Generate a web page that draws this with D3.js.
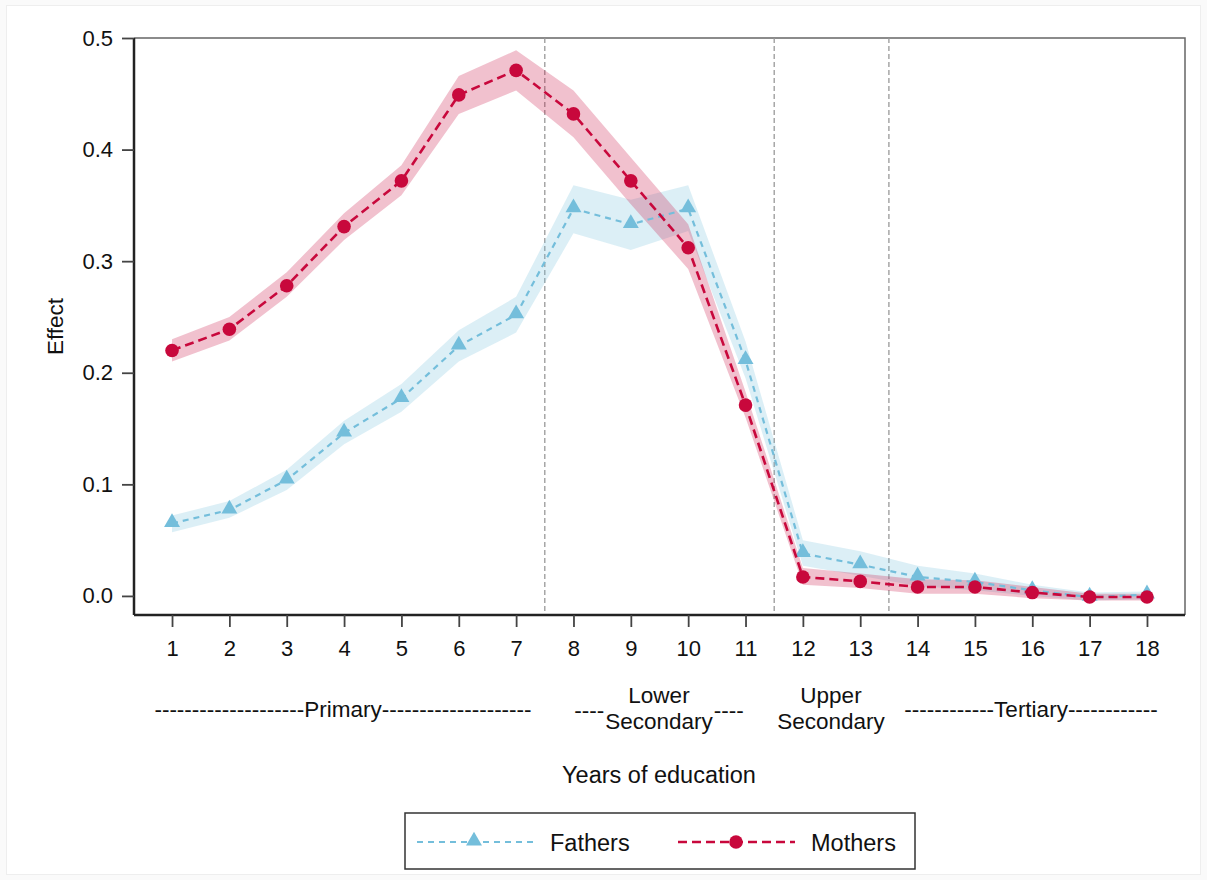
<!DOCTYPE html>
<html>
<head>
<meta charset="utf-8">
<script src="https://cdn.jsdelivr.net/npm/d3@7"></script>
<style>
  body { margin: 0; background: #fafafa; }
  svg { font-family: "Liberation Sans", Arial, sans-serif; }
</style>
</head>
<body>
<div id="chart"></div>
<script>
// Years of education
const years = d3.range(1, 19);
// Point estimates
const fathers = [0.065, 0.077, 0.104, 0.146, 0.177, 0.224, 0.252, 0.347, 0.333, 0.347, 0.211, 0.038, 0.028, 0.017, 0.0125, 0.005, -0.001, 0.001];
const mothers = [0.220, 0.239, 0.278, 0.331, 0.372, 0.449, 0.471, 0.432, 0.372, 0.312, 0.171, 0.017, 0.013, 0.008, 0.008, 0.003, -0.001, -0.001];
// Confidence bands
const fathersLo = [0.057, 0.070, 0.095, 0.136, 0.165, 0.210, 0.236, 0.325, 0.310, 0.327, 0.195, 0.027, 0.018, 0.009, 0.005, 0.000, -0.004, -0.003];
const fathersHi = [0.072, 0.085, 0.113, 0.157, 0.190, 0.238, 0.268, 0.368, 0.355, 0.368, 0.228, 0.050, 0.040, 0.027, 0.020, 0.010, 0.003, 0.004];
const mothersLo = [0.210, 0.229, 0.268, 0.319, 0.359, 0.432, 0.453, 0.411, 0.351, 0.293, 0.160, 0.010, 0.007, 0.002, 0.002, -0.002, -0.004, -0.004];
const mothersHi = [0.230, 0.250, 0.290, 0.343, 0.386, 0.466, 0.489, 0.453, 0.393, 0.333, 0.183, 0.025, 0.020, 0.015, 0.014, 0.008, 0.002, 0.002];
const yTicks = [0, 0.1, 0.2, 0.3, 0.4, 0.5];
const cutoffs = [7.5, 11.5, 13.5];

const config = {
  width: 1207, height: 880,
  margin: {top: 38, right: 22, bottom: 265, left: 134},
  fatherColor: '#74bedb',
  motherColor: '#c8083c',
  labelSize: 22.5
};

const svg = d3.select('#chart').append('svg')
    .attr('width', config.width)
    .attr('height', config.height);

// figure background with faint border
svg.append('rect')
    .attr('x', 6.5).attr('y', 5.5)
    .attr('width', 1194).attr('height', 869)
    .attr('fill', '#fff')
    .attr('stroke', '#eeeeee');

const m = config.margin;
const innerW = config.width - m.left - m.right;
const innerH = config.height - m.top - m.bottom;

const x = d3.scaleLinear().domain([0.337, 18.663]).range([m.left, m.left + innerW]);
const y = d3.scaleLinear().domain([-0.0171, 0.5]).range([m.top + innerH, m.top]);

// top and right frame
svg.append('path')
    .attr('d', `M${m.left},${m.top}H${m.left + innerW}V${m.top + innerH}`)
    .attr('fill', 'none')
    .attr('stroke', '#666')
    .attr('stroke-width', 1.5);

// vertical reference lines
svg.selectAll('.cut')
  .data(cutoffs)
  .join('line')
    .attr('class', 'cut')
    .attr('x1', d => x(d)).attr('x2', d => x(d))
    .attr('y1', m.top).attr('y2', m.top + innerH)
    .attr('stroke', '#999')
    .attr('stroke-width', 1.3)
    .attr('stroke-dasharray', '5,3');

// CI bands
function band(lo, hi, color) {
  const area = d3.area()
      .x((d, i) => x(years[i]))
      .y0((d, i) => y(lo[i]))
      .y1((d, i) => y(hi[i]));
  svg.append('path')
      .datum(years)
      .attr('d', area)
      .attr('fill', color)
      .attr('fill-opacity', 0.25);
}
band(fathersLo, fathersHi, config.fatherColor);
band(mothersLo, mothersHi, config.motherColor);

const line = d3.line().x((d, i) => x(years[i])).y(d => y(d));

// Fathers
svg.append('path')
    .datum(fathers)
    .attr('d', line)
    .attr('fill', 'none')
    .attr('stroke', config.fatherColor)
    .attr('stroke-width', 2.2)
    .attr('stroke-dasharray', '6,5');
const tri = d3.symbol().type(d3.symbolTriangle).size(110);
svg.selectAll('.tri')
  .data(fathers)
  .join('path')
    .attr('class', 'tri')
    .attr('transform', (d, i) => `translate(${x(years[i])},${y(d) - 1})`)
    .attr('d', tri)
    .attr('fill', config.fatherColor);

// Mothers
svg.append('path')
    .datum(mothers)
    .attr('d', line)
    .attr('fill', 'none')
    .attr('stroke', config.motherColor)
    .attr('stroke-width', 2.6)
    .attr('stroke-dasharray', '9,5');
svg.selectAll('.dot')
  .data(mothers)
  .join('circle')
    .attr('class', 'dot')
    .attr('cx', (d, i) => x(years[i]))
    .attr('cy', d => y(d))
    .attr('r', 6.8)
    .attr('fill', config.motherColor);

// Axes
const yAxis = svg.append('g')
    .attr('transform', `translate(${m.left},0)`)
    .call(d3.axisLeft(y).tickValues(yTicks).tickFormat(d3.format('.1f')).tickSize(12).tickPadding(9));
const xAxis = svg.append('g')
    .attr('transform', `translate(0,${m.top + innerH})`)
    .call(d3.axisBottom(x).tickValues(years).tickFormat(d3.format('d')).tickSize(12).tickPadding(13));

[yAxis, xAxis].forEach(g => {
  g.select('.domain').attr('stroke', '#222').attr('stroke-width', 2.5);
  g.selectAll('.tick line').attr('stroke', '#444').attr('stroke-width', 1.8);
  g.selectAll('.tick text')
      .attr('font-size', 22)
      .attr('font-family', '"Liberation Sans", Arial, sans-serif')
      .attr('fill', '#111');
});
// left axis domain runs full height, no outer stubs
yAxis.select('.domain').attr('d', `M0,${m.top}V${m.top + innerH}`);
xAxis.select('.domain').attr('d', `M${m.left},0H${m.left + innerW}`);

// Axis titles
svg.append('text')
    .attr('transform', `translate(63,${m.top + innerH / 2}) rotate(-90)`)
    .attr('text-anchor', 'middle')
    .attr('font-size', config.labelSize)
    .attr('fill', '#111')
    .text('Effect');
svg.append('text')
    .attr('x', 659)
    .attr('y', 783)
    .attr('text-anchor', 'middle')
    .attr('font-size', 23.5)
    .attr('fill', '#111')
    .text('Years of education');

// Level labels
const dashes = n => '-'.repeat(n);
const levelText = svg.append('g')
    .attr('font-size', config.labelSize)
    .attr('fill', '#111')
    .attr('text-anchor', 'middle');
levelText.append('text')
    .attr('x', 343).attr('y', 717)
    .text(dashes(20) + 'Primary' + dashes(20));
levelText.append('text')
    .attr('x', 659).attr('y', 703).text('Lower');
const sec1 = levelText.append('text')
    .attr('x', 659).attr('y', 729).text('Secondary');
const w1 = sec1.node().getComputedTextLength();
levelText.append('text')
    .attr('x', 659 - w1 / 2 - 1).attr('y', 718)
    .attr('text-anchor', 'end').text(dashes(4));
levelText.append('text')
    .attr('x', 659 + w1 / 2 + 1).attr('y', 718)
    .attr('text-anchor', 'start').text(dashes(4));
levelText.append('text')
    .attr('x', 831).attr('y', 703).text('Upper');
levelText.append('text')
    .attr('x', 831).attr('y', 729).text('Secondary');
levelText.append('text')
    .attr('x', 1031).attr('y', 717)
    .text(dashes(12) + 'Tertiary' + dashes(12));

// Legend
const legend = svg.append('g').attr('transform', 'translate(405,813)');
legend.append('rect')
    .attr('width', 510).attr('height', 56)
    .attr('fill', '#fff')
    .attr('stroke', '#333')
    .attr('stroke-width', 1.5);
legend.append('line')
    .attr('x1', 12).attr('x2', 128).attr('y1', 29).attr('y2', 29)
    .attr('stroke', config.fatherColor).attr('stroke-width', 2.2)
    .attr('stroke-dasharray', '6,5');
legend.append('path')
    .attr('transform', 'translate(69,28)')
    .attr('d', tri)
    .attr('fill', config.fatherColor);
legend.append('text')
    .attr('x', 145).attr('y', 38)
    .attr('font-size', 23.5).attr('fill', '#111')
    .text('Fathers');
legend.append('line')
    .attr('x1', 273).attr('x2', 390).attr('y1', 29).attr('y2', 29)
    .attr('stroke', config.motherColor).attr('stroke-width', 2.6)
    .attr('stroke-dasharray', '9,5');
legend.append('circle')
    .attr('cx', 331).attr('cy', 29).attr('r', 6.8)
    .attr('fill', config.motherColor);
legend.append('text')
    .attr('x', 406).attr('y', 38)
    .attr('font-size', 23.5).attr('fill', '#111')
    .text('Mothers');
</script>
</body>
</html>
